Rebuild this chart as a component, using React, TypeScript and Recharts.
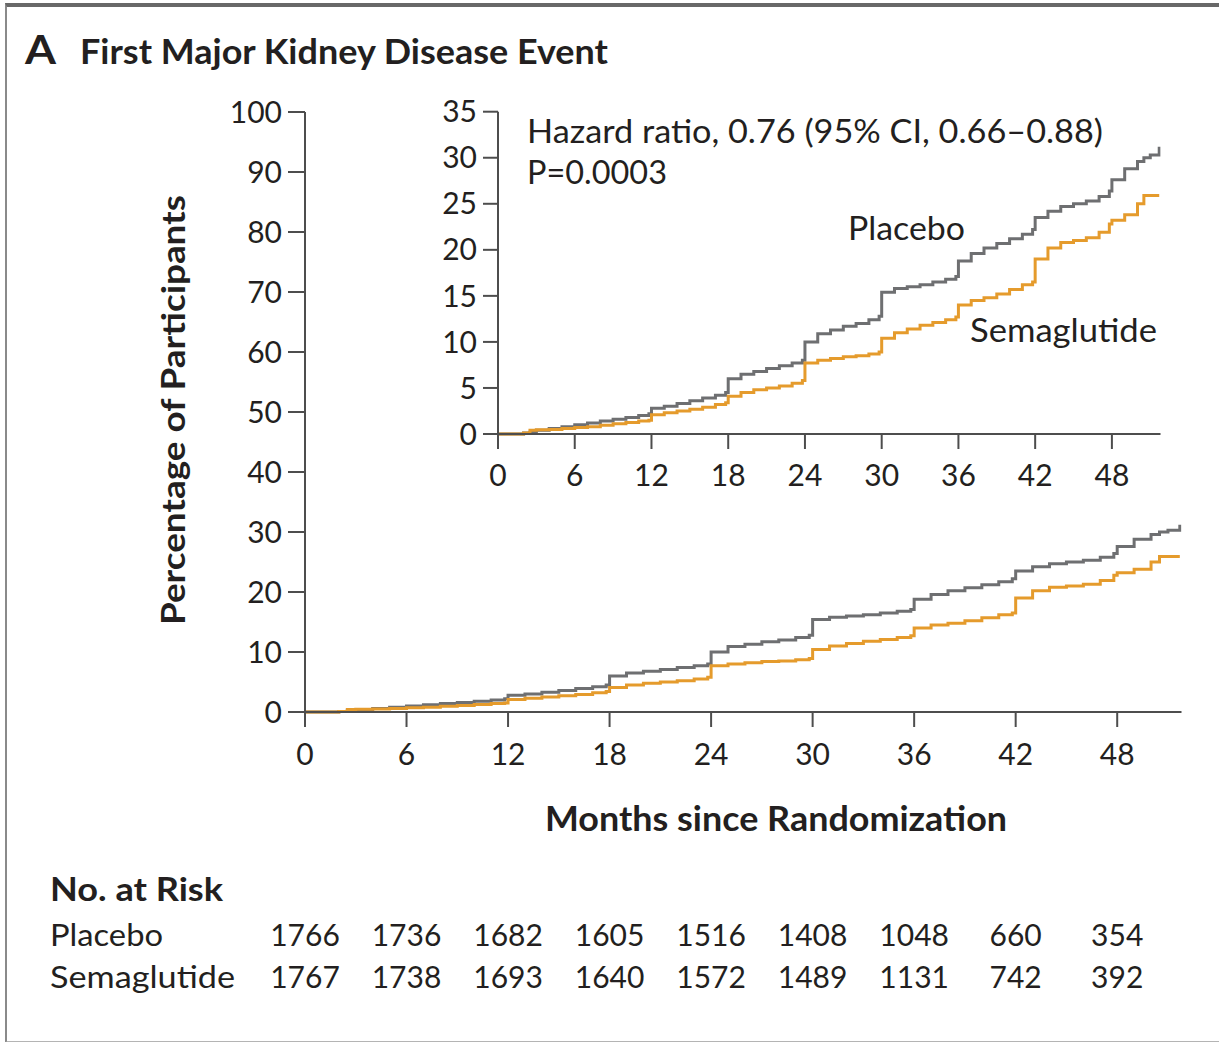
import React from "react";
import { LineChart, Line, XAxis, YAxis } from "recharts";

// ---------- data ----------
const months = [
  0, 1, 2, 2.5, 3, 4, 5, 6, 7, 8, 9, 10, 11, 11.8, 12, 13, 14, 15, 16, 17, 17.8, 18, 19, 20, 21, 22, 23, 23.8,
  24, 25, 26, 27, 28, 29, 29.8, 30, 31, 32, 33, 34, 35, 35.8, 36, 37, 38, 39, 40, 41, 41.8, 42, 43, 44, 45, 46,
  47, 47.8, 48, 49, 50, 50.5, 51, 51.7,
];
const placebo = [
  0, 0, 0.1, 0.2, 0.4, 0.6, 0.8, 1.0, 1.2, 1.4, 1.6, 1.8, 2.0, 2.2, 2.8, 3.0, 3.3, 3.6, 3.9, 4.2, 4.5, 6.0, 6.5,
  6.8, 7.1, 7.4, 7.7, 8.0, 10.0, 10.9, 11.3, 11.7, 12.0, 12.4, 12.8, 15.4, 15.8, 16.0, 16.2, 16.5, 16.8, 17.1,
  18.8, 19.6, 20.2, 20.7, 21.2, 21.7, 22.2, 23.5, 24.2, 24.7, 25.0, 25.3, 25.8, 26.4, 27.6, 28.8, 29.6, 30.0,
  30.3, 31.2,
];
const semaglutide = [
  0, 0, 0.1, 0.4, 0.45, 0.5, 0.6, 0.7, 0.8, 0.95, 1.1, 1.25, 1.4, 1.5, 2.1, 2.3, 2.5, 2.7, 2.9, 3.2, 3.4, 4.1,
  4.5, 4.8, 5.0, 5.2, 5.5, 5.8, 7.7, 8.0, 8.2, 8.4, 8.5, 8.7, 8.9, 10.4, 11.0, 11.4, 11.8, 12.1, 12.4, 12.7,
  14.0, 14.5, 14.8, 15.2, 15.7, 16.2, 16.5, 19.0, 20.2, 20.8, 21.0, 21.3, 21.9, 22.8, 23.2, 23.8, 25.0, 25.9,
  25.9, 25.9,
];
const xTicks = [0, 6, 12, 18, 24, 30, 36, 42, 48];
const mainYTicks = [0, 10, 20, 30, 40, 50, 60, 70, 80, 90, 100];
const insetYTicks = [0, 5, 10, 15, 20, 25, 30, 35];
const riskPlacebo = [1766, 1736, 1682, 1605, 1516, 1408, 1048, 660, 354];
const riskSemaglutide = [1767, 1738, 1693, 1640, 1572, 1489, 1131, 742, 392];

const data = months.map((m, i) => ({ month: m, placebo: placebo[i], semaglutide: semaglutide[i] }));

// ---------- styles ----------
const FONT = "Lato, 'Open Sans', sans-serif";
const TEXT = "#231f20";
const AXIS = "#4d4d4d";
const GRAY = "#6e6f71";
const ORANGE = "#e59b2c";
const X_MAX = 51.8;

const MainTick = (props: any) => {
  const { x, y, payload } = props;
  const i = xTicks.indexOf(payload.value);
  return (
    <g>
      <text x={x} y={y} dy="0.71em" textAnchor="middle" fontFamily={FONT} fontSize={30} fill={TEXT}>
        {payload.value}
      </text>
      <text x={x} y={946} textAnchor="middle" fontFamily={FONT} fontSize={30} fill={TEXT}>
        {riskPlacebo[i]}
      </text>
      <text x={x} y={988} textAnchor="middle" fontFamily={FONT} fontSize={30} fill={TEXT}>
        {riskSemaglutide[i]}
      </text>
    </g>
  );
};

const T = (p: any) => (
  <text
    x={p.x}
    y={p.y}
    fontFamily={FONT}
    fontSize={p.size}
    fontWeight={p.bold ? 700 : 400}
    fill={TEXT}
    textLength={p.len}
    lengthAdjust="spacingAndGlyphs"
    textAnchor={p.anchor || "start"}
    transform={p.transform}
  >
    {p.children}
  </text>
);

export default function App() {
  return (
    <div
      style={{
        position: "absolute",
        left: 0,
        top: 0,
        width: 1219,
        height: 1042,
        overflow: "hidden",
        background: "#fff",
        fontFamily: FONT,
      }}
    >
      {/* frame */}
      <div
        style={{
          position: "absolute",
          left: 5,
          top: 3,
          width: 1240,
          height: 1034,
          borderTop: "4px solid #686868",
          borderLeft: "2px solid #8a8a8a",
          borderBottom: "3px solid #b4b4b4",
        }}
      />
      {/* main chart */}
      <div style={{ position: "absolute", left: 0, top: 0 }}>
        <LineChart width={1219} height={1042} data={data} margin={{ top: 112, right: 37.5, left: 0, bottom: 0 }}>
          <XAxis
            dataKey="month"
            type="number"
            domain={[0, X_MAX]}
            ticks={xTicks}
            interval={0}
            height={330}
            tickSize={15}
            tickMargin={17}
            stroke={AXIS}
            strokeWidth={2}
            tick={<MainTick />}
            allowDataOverflow
          />
          <YAxis
            type="number"
            domain={[0, 100]}
            ticks={mainYTicks}
            interval={0}
            width={305}
            tickSize={17}
            tickMargin={6}
            stroke={AXIS}
            strokeWidth={2}
            tick={{ fontFamily: FONT, fontSize: 30, fill: TEXT }}
          />
          <Line type="stepAfter" dataKey="placebo" stroke={GRAY} strokeWidth={3} dot={false} isAnimationActive={false} />
          <Line
            type="stepAfter"
            dataKey="semaglutide"
            stroke={ORANGE}
            strokeWidth={3}
            dot={false}
            isAnimationActive={false}
          />
        </LineChart>
      </div>
      {/* inset chart */}
      <div style={{ position: "absolute", left: 0, top: 0 }}>
        <LineChart width={1219} height={520} data={data} margin={{ top: 111.7, right: 58.5, left: 0, bottom: 0 }}>
          <XAxis
            dataKey="month"
            type="number"
            domain={[0, X_MAX]}
            ticks={xTicks}
            interval={0}
            height={86}
            tickSize={15}
            tickMargin={16}
            stroke={AXIS}
            strokeWidth={2}
            tick={{ fontFamily: FONT, fontSize: 30, fill: TEXT }}
            allowDataOverflow
          />
          <YAxis
            type="number"
            domain={[0, 35]}
            ticks={insetYTicks}
            interval={0}
            width={498}
            tickSize={15}
            tickMargin={6}
            stroke={AXIS}
            strokeWidth={2}
            tick={{ fontFamily: FONT, fontSize: 30, fill: TEXT }}
          />
          <Line type="stepAfter" dataKey="placebo" stroke={GRAY} strokeWidth={3} dot={false} isAnimationActive={false} />
          <Line
            type="stepAfter"
            dataKey="semaglutide"
            stroke={ORANGE}
            strokeWidth={3}
            dot={false}
            isAnimationActive={false}
          />
        </LineChart>
      </div>
      {/* static texts */}
      <svg width={1219} height={1042} style={{ position: "absolute", left: 0, top: 0, pointerEvents: "none" }}>
        <T x={25} y={64} size={40} bold len={31}>A</T>
        <T x={80} y={64} size={34} bold len={528}>First Major Kidney Disease Event</T>
        <T x={185} y={410} size={32} bold len={430} anchor="middle" transform="rotate(-90 185 410)">
          Percentage of Participants
        </T>
        <T x={545} y={831} size={34} bold len={462}>Months since Randomization</T>
        <T x={50} y={901} size={32} bold len={173}>No. at Risk</T>
        <T x={50} y={946} size={30} len={113}>Placebo</T>
        <T x={50} y={988} size={30} len={185}>Semaglutide</T>
        <T x={527} y={143} size={33} len={576}>Hazard ratio, 0.76 (95% CI, 0.66–0.88)</T>
        <T x={527} y={184} size={33} len={140}>P=0.0003</T>
        <T x={848} y={240} size={33} len={117}>Placebo</T>
        <T x={970} y={342} size={33} len={187}>Semaglutide</T>
      </svg>
    </div>
  );
}
